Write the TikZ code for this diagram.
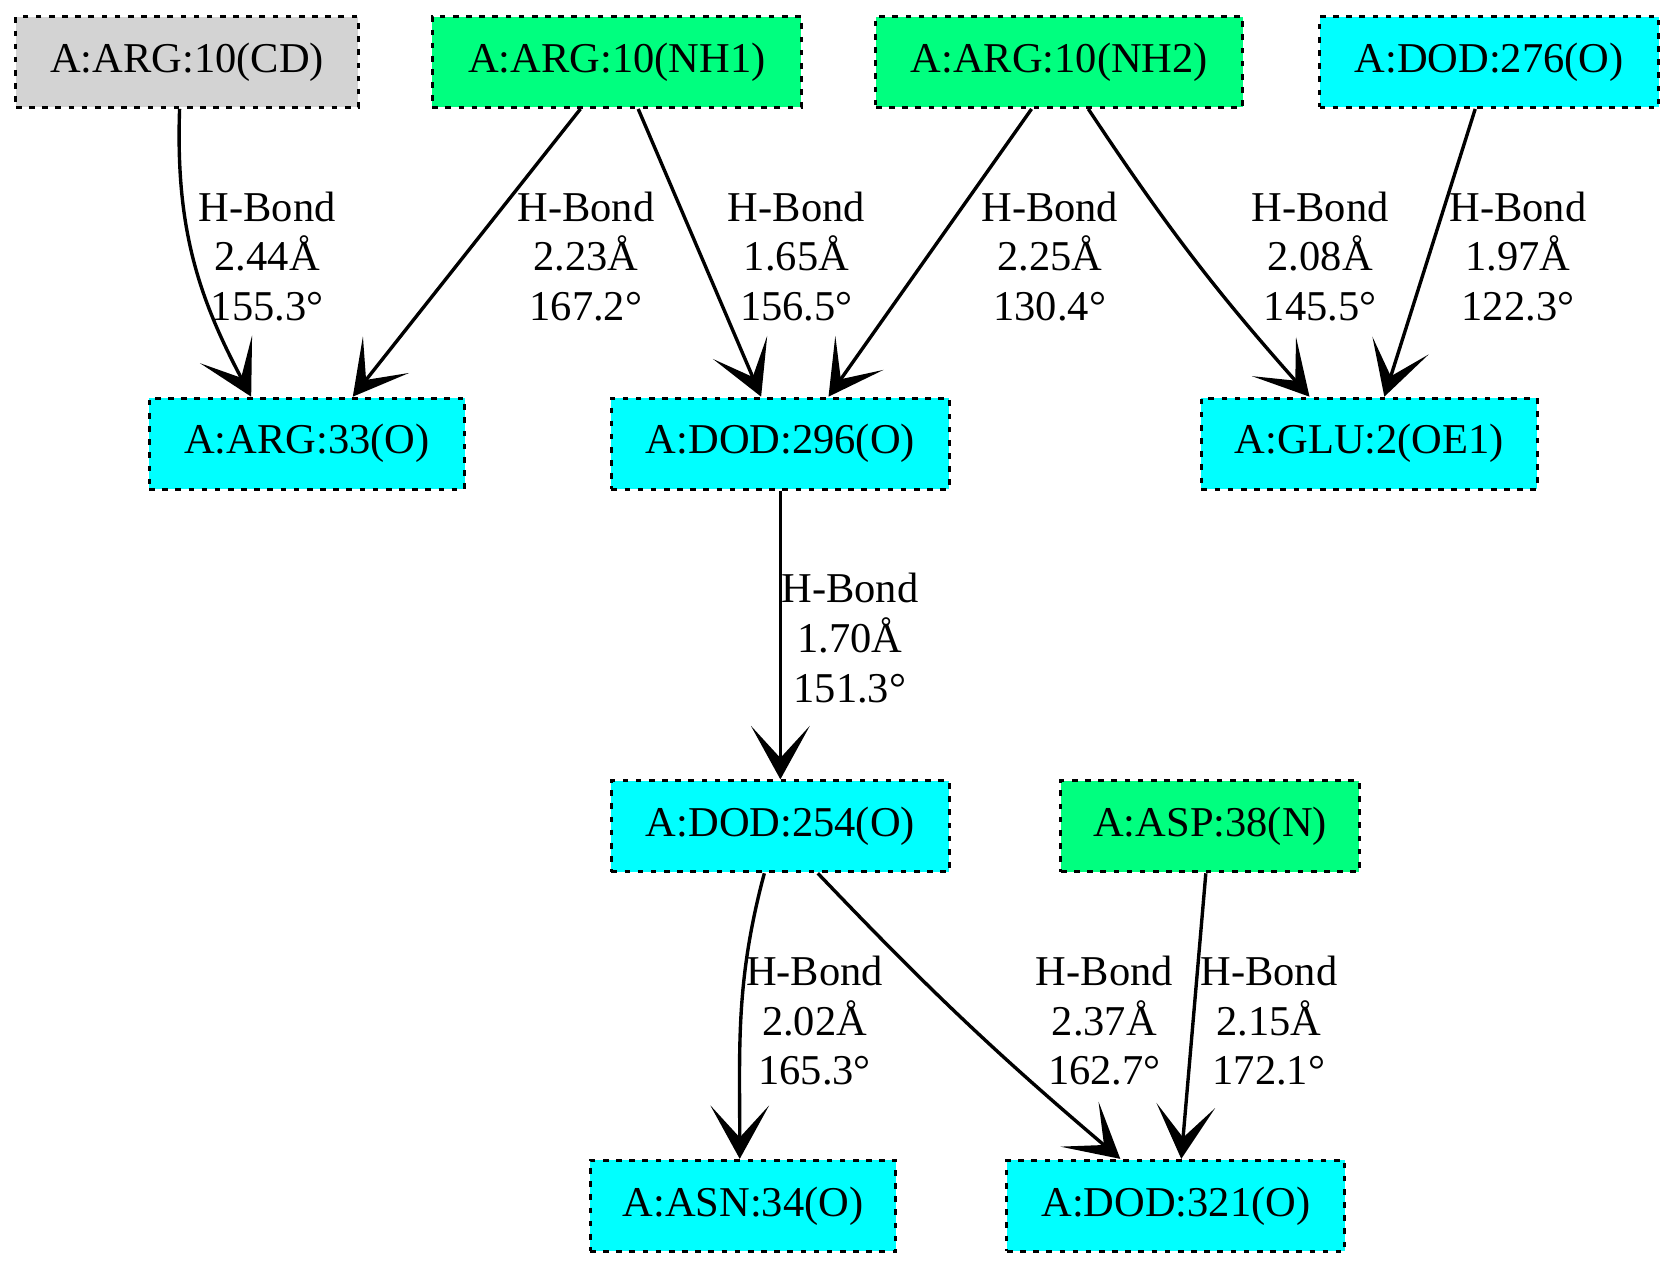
\documentclass[tikz,border=0pt]{standalone}
\usepackage{fontspec}
\setmainfont{Liberation Serif}
\usetikzlibrary{arrows.meta,positioning}
\definecolor{donor}{HTML}{00FF7F}
\definecolor{accept}{HTML}{00FFFF}
\definecolor{other}{HTML}{D3D3D3}
\tikzset{
     atom/.style={fill=#1, rectangle, draw, line width=0.8pt,
       dash pattern=on 1.5pt off 2pt, minimum height=0.85cm, inner xsep=0.3cm},
     don/.style={atom=donor},
     acc/.style={atom=accept},
     oth/.style={atom=other},
     bond/.style={-{Stealth[length=0.5cm,width=0.55cm,inset=0.3cm]}, line width=0.9pt},
     lab/.style={align=center, inner sep=0pt},
}
\begin{document}
\begin{tikzpicture}[x=0.01cm,y=-0.01cm, font=\fontsize{11.3}{13.2}\selectfont]
	\useasboundingbox (0,0) rectangle (1565,1183);
	% atoms
	\node[oth, minimum width=3.2cm] (cd) at (175,58) {A:ARG:10(CD)};
	\node[don, minimum width=3.45cm] (nh1) at (577,58) {A:ARG:10(NH1)};
	\node[don, minimum width=3.43cm] (nh2) at (991,58) {A:ARG:10(NH2)};
	\node[acc, minimum width=3.17cm] (o276) at (1393,58) {A:DOD:276(O)};
	\node[acc, minimum width=2.95cm] (o33) at (287,415) {A:ARG:33(O)};
	\node[acc, minimum width=3.16cm] (o296) at (730,415) {A:DOD:296(O)};
	\node[acc, minimum width=3.14cm] (oe1) at (1281,415) {A:GLU:2(OE1)};
	\node[acc, minimum width=3.16cm] (o254) at (730,773) {A:DOD:254(O)};
	\node[don, minimum width=2.79cm] (n38) at (1132,773) {A:ASP:38(N)};
	\node[acc, minimum width=2.86cm] (o34) at (695,1128) {A:ASN:34(O)};
	\node[acc, minimum width=3.16cm] (o321) at (1100,1128) {A:DOD:321(O)};

	% bonds
	\draw[bond] ([xshift=-0.07cm]cd.south) to[out=-92,in=118] ([xshift=-0.52cm]o33.north);
	\draw[bond] ([xshift=-0.34cm]nh1.south) -- ([xshift=0.43cm]o33.north);
	\draw[bond] ([xshift=0.2cm]nh1.south) -- ([xshift=-0.18cm]o296.north);
	\draw[bond] ([xshift=-0.26cm]nh2.south) -- ([xshift=0.45cm]o296.north);
	\draw[bond] ([xshift=0.27cm]nh2.south) to[bend right=4] ([xshift=-0.56cm]oe1.north);
	\draw[bond] ([xshift=-0.13cm]o276.south) -- ([xshift=0.14cm]oe1.north);
	\draw[bond] (o296.south) -- (o254.north);
	\draw[bond] ([xshift=-0.15cm]o254.south) to[out=-105,in=90] ([xshift=-0.03cm]o34.north);
	\draw[bond] ([xshift=0.35cm]o254.south) to[bend right=3] ([xshift=-0.52cm]o321.north);
	\draw[bond] ([xshift=-0.04cm]n38.south) -- ([xshift=0.05cm]o321.north);

	% labels
	\node[lab] (l1) at (250,240) {H-Bond\\2.44Å\\155.3°};
	\node[lab] (l2) at (548,240) {H-Bond\\2.23Å\\167.2°};
	\node[lab] (l3) at (745,240) {H-Bond\\1.65Å\\156.5°};
	\node[lab] (l4) at (982,240) {H-Bond\\2.25Å\\130.4°};
	\node[lab] (l5) at (1235,240) {H-Bond\\2.08Å\\145.5°};
	\node[lab] (l6) at (1420,240) {H-Bond\\1.97Å\\122.3°};
	\node[lab] (l7) at (795,597) {H-Bond\\1.70Å\\151.3°};
	\node[lab] (l8) at (762,955) {H-Bond\\2.02Å\\165.3°};
	\node[lab] (l9) at (1033,955) {H-Bond\\2.37Å\\162.7°};
	\node[lab] (l10) at (1187,955) {H-Bond\\2.15Å\\172.1°};
\end{tikzpicture}
\end{document}
